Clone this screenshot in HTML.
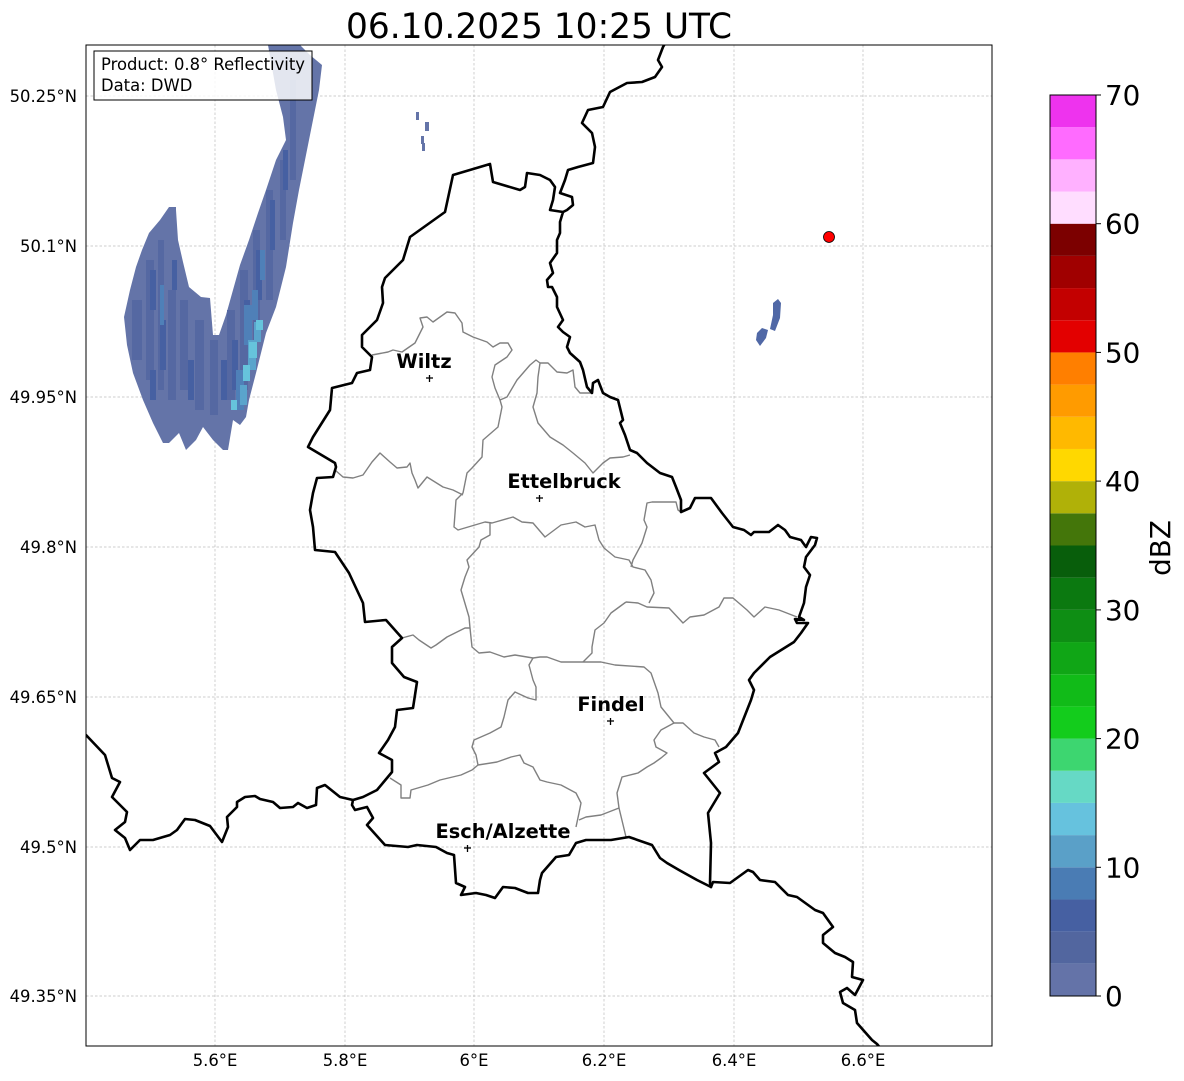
<!DOCTYPE html>
<html><head><meta charset="utf-8"><style>
html,body{margin:0;padding:0;background:#fff;}
svg{display:block;font-family:"DejaVu Sans","Liberation Sans",sans-serif;}
</style></head><body>
<svg width="1184" height="1081" viewBox="0 0 1184 1081" xmlns="http://www.w3.org/2000/svg">
<rect width="1184" height="1081" fill="#fff"/>
<text x="539" y="38" font-size="34.4" text-anchor="middle" fill="#000">06.10.2025 10:25 UTC</text>
<defs><clipPath id="mc"><rect x="86" y="45" width="906" height="1001"/></clipPath></defs>
<g clip-path="url(#mc)">
<!-- gridlines -->
<g stroke="#bcbcbc" stroke-width="0.7" stroke-dasharray="2.5,2">
<line x1="215" y1="45" x2="215" y2="1046"/><line x1="345" y1="45" x2="345" y2="1046"/><line x1="474" y1="45" x2="474" y2="1046"/><line x1="604" y1="45" x2="604" y2="1046"/><line x1="734" y1="45" x2="734" y2="1046"/><line x1="863" y1="45" x2="863" y2="1046"/>
<line x1="86" y1="96" x2="992" y2="96"/><line x1="86" y1="246" x2="992" y2="246"/><line x1="86" y1="397" x2="992" y2="397"/><line x1="86" y1="547" x2="992" y2="547"/><line x1="86" y1="697" x2="992" y2="697"/><line x1="86" y1="847" x2="992" y2="847"/><line x1="86" y1="996" x2="992" y2="996"/>
</g>
<!-- radar echoes -->
<g>
<polygon fill="#6474a8" points="124,317 130,290 136,267 142,250 149,233 160,220 169,207 176,207 176,210 178,240 183,262 189,287 201,297 210,298 213,335 219,335 226,315 233,290 240,265 249,240 258,213 266,190 276,160 286,140 283,117 276,90 268,45 300,45 310,55 322,65 319,90 309,140 299,190 293,223 286,267 276,307 266,333 256,373 249,400 246,417 240,425 233,420 228,450 223,450 213,440 203,427 196,440 186,450 179,433 169,443 163,443 153,423 143,400 133,373 127,345"/>
<g fill="#5568a2">
<rect x="132" y="300" width="10" height="60"/><rect x="146" y="260" width="8" height="120"/><rect x="158" y="240" width="6" height="150"/><rect x="168" y="290" width="8" height="110"/><rect x="180" y="300" width="8" height="90"/><rect x="195" y="320" width="9" height="90"/><rect x="210" y="340" width="8" height="75"/>
<rect x="227" y="310" width="8" height="90"/><rect x="240" y="270" width="8" height="120"/><rect x="253" y="230" width="7" height="110"/><rect x="266" y="190" width="7" height="110"/><rect x="280" y="160" width="6" height="80"/><rect x="290" y="80" width="6" height="100"/>
</g>
<g fill="#4660a2">
<rect x="150" y="270" width="6" height="40"/><rect x="160" y="320" width="6" height="50"/><rect x="172" y="260" width="5" height="30"/><rect x="150" y="370" width="6" height="30"/><rect x="188" y="360" width="6" height="40"/>
<rect x="232" y="340" width="6" height="50"/><rect x="244" y="300" width="6" height="40"/><rect x="256" y="250" width="6" height="50"/><rect x="270" y="200" width="5" height="50"/><rect x="283" y="150" width="5" height="40"/><rect x="221" y="360" width="6" height="40"/>
</g>
<g fill="#4f80b8">
<rect x="244" y="305" width="8" height="40"/><rect x="252" y="290" width="6" height="30"/><rect x="236" y="370" width="8" height="40"/><rect x="260" y="250" width="5" height="30"/><rect x="160" y="285" width="4" height="40"/>
</g>
<g fill="#5aa4cc">
<rect x="248" y="340" width="8" height="30"/><rect x="254" y="322" width="7" height="20"/><rect x="240" y="385" width="7" height="20"/>
</g>
<g fill="#66c4dc">
<rect x="256" y="320" width="7" height="10"/><rect x="249" y="342" width="8" height="16"/><rect x="243" y="365" width="7" height="16"/><rect x="231" y="400" width="6" height="10"/>
</g>
<g fill="#6474a8">
<rect x="416" y="112" width="3" height="8"/><rect x="425" y="122" width="4" height="9"/><rect x="421" y="136" width="3" height="8"/><rect x="422" y="143" width="3" height="8"/>
</g>
<polygon fill="#5068a6" points="757,333 762,328 768,330 766,338 760,346 756,340"/>
<polygon fill="#5068a6" points="773,303 778,299 781,303 780,318 775,331 770,329 773,315"/>
</g>
<!-- grey internal boundaries -->
<g fill="none" stroke="#808080" stroke-width="1.4" stroke-linejoin="round">
<polyline points="372,355 388,352 393,350 402,352 415,343 423,327 420,318 427,317 433,322 447,312 455,313 462,323 463,332 473,337 487,342 493,347 500,343 508,343 512,350 507,357 495,365 492,377 495,388 500,400 502,407 500,417 498,427 483,440 482,457 472,468 467,473 463,493 456,500 454,527 458,530 485,522 492,523 513,517 522,522 533,523 545,537 561,525 576,522 585,527 595,525 599,540 604,548 615,557 629,560 633,567 645,570 651,580 654,593 649,603"/>
<polyline points="335,470 343,477 353,478 363,475 372,462 380,453 390,462 397,468 407,467 410,463 412,473 415,480 418,488 427,477 435,482 443,487 453,490 463,495"/>
<polyline points="500,400 507,397 517,380 530,365 536,360 540,363 538,377 537,393 533,407 538,423 550,437 563,445 573,453 585,463 593,473 603,463 610,458 623,457 630,455"/>
<polyline points="540,363 548,363 557,372 567,373 573,370 575,387 580,393 592,393"/>
<polyline points="681,512 678,510 676,502 652,502 647,503 644,520 647,527 642,543 633,560 631,567"/>
<polyline points="626,602 638,603 647,607 669,608 683,623 690,617 704,615 719,607 724,598 733,598 747,610 754,617 765,607 779,610 797,617"/>
<polyline points="626,602 611,613 604,623 595,630 592,647 592,653 583,662"/>
<polyline points="490,522 490,535 481,540 479,547 467,560 469,567 465,577 461,590 469,617 470,628 472,647 479,653 490,652 504,657 515,655 533,658 540,657 547,657 561,662 583,662 590,662 601,662 615,665 644,667 651,673 658,693 661,707 674,723 683,723 694,733 704,737 715,740 719,747"/>
<polyline points="402,638 413,635 419,640 431,648 436,645 447,637 465,628 470,628"/>
<polyline points="533,658 529,665 533,680 536,687 536,700 528,698 515,692 508,700 504,717 501,727 490,733 474,740 472,747 476,755 478,765"/>
<polyline points="478,765 472,770 461,775 440,780 428,785 411,790 410,798 401,798 401,785 390,778"/>
<polyline points="478,765 497,762 511,757 520,755 524,763 533,767 540,780 547,782 561,785 576,793 581,803 579,813 576,827"/>
<polyline points="579,820 586,817 601,815 619,808 626,837"/>
<polyline points="619,808 617,793 622,777 638,773 647,767 654,763 661,758 667,753 656,747 654,740 661,730 674,723"/>
</g>
<!-- black country borders -->
<g fill="none" stroke="#000" stroke-width="2.6" stroke-linejoin="round" stroke-linecap="round">
<polyline points="86,735 105,755 112,778 120,782 112,797 127,812 125,822 115,830 125,838 130,850 140,840 153,840 170,835 177,830 185,819 195,820 210,826 222,842 228,827 227,817 237,807 237,802 245,797 255,796 260,799 273,802 280,808 293,807 298,803 307,808 316,805 317,788 325,785 340,797 353,800"/>
<polygon points="490,164 453,175 445,212 410,237 403,260 385,278 382,287 383,303 377,320 362,335 362,347 372,357 370,370 357,373 352,383 332,388 330,410 313,437 308,447 335,463 336,467 333,477 317,478 313,493 310,510 313,527 315,550 335,552 349,573 363,603 365,622 386,620 402,638 392,647 392,663 404,677 417,682 413,708 397,710 395,727 388,740 379,753 392,760 392,772 377,790 363,797 353,800 352,805 355,810 367,807 373,818 367,825 385,845 408,847 417,845 436,847 447,853 454,855 456,883 465,887 461,895 476,893 486,895 495,898 503,887 515,888 528,893 538,893 540,880 542,873 556,857 569,855 576,843 586,840 611,840 629,837 652,845 660,858 667,863 679,870 697,880 711,887 710,883 711,843 708,813 720,793 704,773 719,762 715,753 726,747 738,733 751,700 754,690 749,680 754,673 770,657 794,642 801,633 808,623 797,623 795,619 804,620 799,617 804,603 806,587 810,575 804,567 806,557 815,545 817,538 811,537 806,547 801,540 790,537 785,530 778,525 769,532 754,532 751,535 744,530 733,527 722,513 711,498 695,498 690,508 681,512 681,500 676,487 672,477 660,473 647,463 637,453 630,450 625,435 620,423 623,420 618,400 610,397 603,393 598,380 593,383 592,393 587,387 583,370 580,362 570,353 567,347 570,337 563,332 558,327 563,320 557,307 557,297 552,287 548,287 547,280 553,273 550,263 557,253 557,240 560,233 560,222 563,212 550,210 553,200 555,187 550,180 540,175 527,173 525,187 520,190 493,182"/>
<polyline points="563,212 567,210 573,205 572,197 560,193 565,180 568,170 578,167 593,163 595,147 592,133 582,123 588,110 603,107 610,92 627,83 642,82 655,77 662,67 658,60 663,47 666,42"/>
<polyline points="711,887 713,882 730,883 748,870 753,872 760,880 775,882 788,895 797,897 815,910 823,913 833,927 823,935 823,943 835,953 845,957 853,962 852,977 863,980 855,995 847,988 840,992 843,1003 855,1010 857,1023 872,1040 877,1044 882,1050"/>
</g>
<!-- red dot -->
<circle cx="829" cy="237" r="5.5" fill="#ff0000" stroke="#000" stroke-width="0.8"/>
<!-- cities -->
<g stroke="#000" stroke-width="1.3">
<line x1="426" y1="378" x2="433" y2="378"/><line x1="429.5" y1="375" x2="429.5" y2="382"/>
<line x1="536" y1="498" x2="543" y2="498"/><line x1="539.5" y1="495" x2="539.5" y2="502"/>
<line x1="607" y1="721" x2="614" y2="721"/><line x1="610.5" y1="718" x2="610.5" y2="725"/>
<line x1="464" y1="848" x2="471" y2="848"/><line x1="467.5" y1="845" x2="467.5" y2="852"/>
</g>
<g font-size="19.4" font-weight="bold" text-anchor="middle" fill="#000">
<text x="424" y="368">Wiltz</text>
<text x="564" y="488">Ettelbruck</text>
<text x="611" y="711">Findel</text>
<text x="503" y="838">Esch/Alzette</text>
</g>
<!-- legend box -->
<rect x="94" y="51" width="218" height="49" fill="#fff" fill-opacity="0.82" stroke="#000" stroke-width="1"/>
<text x="101" y="70" font-size="16.4" fill="#000">Product: 0.8° Reflectivity</text>
<text x="101" y="91" font-size="16.4" fill="#000">Data: DWD</text>
</g>
<rect x="86" y="45" width="906" height="1001" fill="none" stroke="#000" stroke-width="1"/>
<!-- axis labels -->
<g font-size="16.4" fill="#000" text-anchor="end">
<text x="77" y="102">50.25°N</text>
<text x="77" y="252">50.1°N</text>
<text x="77" y="403">49.95°N</text>
<text x="77" y="553">49.8°N</text>
<text x="77" y="703">49.65°N</text>
<text x="77" y="853">49.5°N</text>
<text x="77" y="1002">49.35°N</text>
</g>
<g font-size="16.4" fill="#000" text-anchor="middle">
<text x="215" y="1066">5.6°E</text>
<text x="345" y="1066">5.8°E</text>
<text x="474" y="1066">6°E</text>
<text x="604" y="1066">6.2°E</text>
<text x="734" y="1066">6.4°E</text>
<text x="863" y="1066">6.6°E</text>
</g>
<!-- colorbar -->
<g>
<rect x="1050" y="963.82" width="46" height="32.18" fill="#6473a8"/>
<rect x="1050" y="931.64" width="46" height="32.18" fill="#52669f"/>
<rect x="1050" y="899.46" width="46" height="32.18" fill="#4660a2"/>
<rect x="1050" y="867.29" width="46" height="32.18" fill="#4a7cb4"/>
<rect x="1050" y="835.11" width="46" height="32.18" fill="#5aa0c8"/>
<rect x="1050" y="802.93" width="46" height="32.18" fill="#66c2de"/>
<rect x="1050" y="770.75" width="46" height="32.18" fill="#66d9c5"/>
<rect x="1050" y="738.57" width="46" height="32.18" fill="#3dd670"/>
<rect x="1050" y="706.39" width="46" height="32.18" fill="#13cc1c"/>
<rect x="1050" y="674.21" width="46" height="32.18" fill="#11bb18"/>
<rect x="1050" y="642.04" width="46" height="32.18" fill="#10a616"/>
<rect x="1050" y="609.86" width="46" height="32.18" fill="#0e8e14"/>
<rect x="1050" y="577.68" width="46" height="32.18" fill="#0b7910"/>
<rect x="1050" y="545.5" width="46" height="32.18" fill="#085e0b"/>
<rect x="1050" y="513.32" width="46" height="32.18" fill="#44760a"/>
<rect x="1050" y="481.14" width="46" height="32.18" fill="#b0b108"/>
<rect x="1050" y="448.96" width="46" height="32.18" fill="#ffd800"/>
<rect x="1050" y="416.79" width="46" height="32.18" fill="#ffb900"/>
<rect x="1050" y="384.61" width="46" height="32.18" fill="#ff9b00"/>
<rect x="1050" y="352.43" width="46" height="32.18" fill="#ff7f00"/>
<rect x="1050" y="320.25" width="46" height="32.18" fill="#e30000"/>
<rect x="1050" y="288.07" width="46" height="32.18" fill="#c30000"/>
<rect x="1050" y="255.89" width="46" height="32.18" fill="#a00000"/>
<rect x="1050" y="223.71" width="46" height="32.18" fill="#7c0000"/>
<rect x="1050" y="191.54" width="46" height="32.18" fill="#ffddff"/>
<rect x="1050" y="159.36" width="46" height="32.18" fill="#ffb1ff"/>
<rect x="1050" y="127.18" width="46" height="32.18" fill="#ff6bff"/>
<rect x="1050" y="95" width="46" height="32.18" fill="#ee33ee"/>
<rect x="1050" y="95" width="46" height="901" fill="none" stroke="#000" stroke-width="1"/>
<g stroke="#000" stroke-width="1">
<line x1="1096" y1="996" x2="1101" y2="996"/><line x1="1096" y1="867.3" x2="1101" y2="867.3"/><line x1="1096" y1="738.6" x2="1101" y2="738.6"/><line x1="1096" y1="609.9" x2="1101" y2="609.9"/><line x1="1096" y1="481.1" x2="1101" y2="481.1"/><line x1="1096" y1="352.4" x2="1101" y2="352.4"/><line x1="1096" y1="223.7" x2="1101" y2="223.7"/><line x1="1096" y1="95" x2="1101" y2="95"/>
</g>
<g font-size="27.8" fill="#000">
<text x="1105" y="1006">0</text>
<text x="1105" y="877.3">10</text>
<text x="1105" y="748.6">20</text>
<text x="1105" y="619.9">30</text>
<text x="1105" y="491.1">40</text>
<text x="1105" y="362.4">50</text>
<text x="1105" y="233.7">60</text>
<text x="1105" y="105">70</text>
</g>
<text x="0" y="0" font-size="27.8" fill="#000" text-anchor="middle" transform="translate(1170,548) rotate(-90)">dBZ</text>
</g>
</svg>
</body></html>
